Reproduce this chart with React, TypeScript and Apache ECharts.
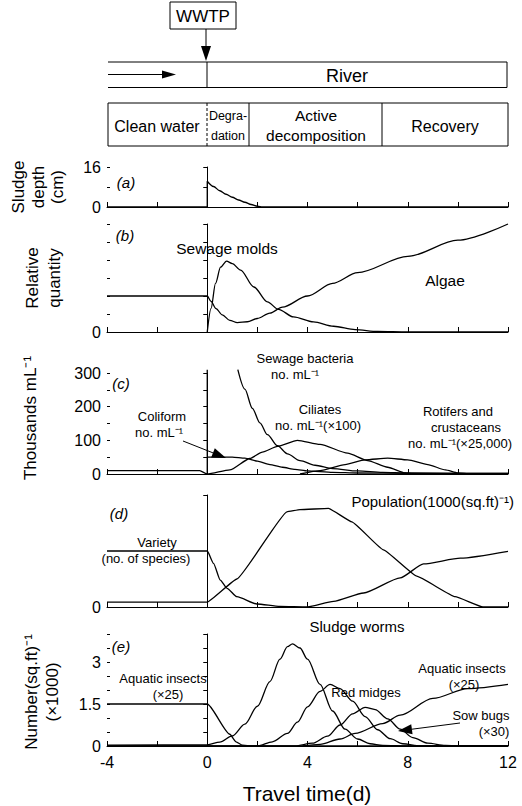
import React, { useEffect, useRef } from "react";
import * as echarts from "echarts";

// ---------- data ----------
const xTickLabels = [-4, 0, 4, 8, 12];
const aTickLabels = [0, 16];
const bTickLabels = [0];
const cTickLabels = [0, 100, 200, 300];
const dTickLabels = [0];
const eTickLabels = [0, 1.5, 3];

// (a) sludge depth, cm
const sludgeStep = [[-4, 0], [0, 0], [0, 10.3]];
const sludgeDecay = [[0, 10.3], [0.25, 8.2], [0.5, 6.5], [0.75, 5.1], [1, 3.9], [1.25, 2.8], [1.5, 1.9], [1.75, 1.0], [2, 0.3], [2.2, 0], [12, 0]];

// (b) relative quantity
const algae = [[-4, 2], [0, 2], [0.15, 1.7], [0.35, 1.3], [0.6, 0.95], [0.9, 0.65], [1.2, 0.52], [1.6, 0.57], [2, 0.75], [2.5, 1.05], [3, 1.38], [4, 2.0], [5, 2.7], [6, 3.3], [8, 4.2], [10, 5.1], [12, 6.0]];
const sewageMolds = [[0, 0], [0.15, 1.3], [0.33, 2.7], [0.53, 3.6], [0.77, 3.94], [1, 3.8], [1.33, 3.44], [1.86, 2.5], [2.4, 1.67], [2.84, 1.26], [3.44, 0.84], [4.24, 0.56], [5.04, 0.32], [5.9, 0.13], [6.8, 0.03], [8, 0], [12, 0]];

// (c) thousands per mL
const bacteriaSpike = [[0, 0], [0, 310]];
const sewageBacteria = [[1.22, 310], [1.5, 252], [1.8, 195], [2.1, 152], [2.4, 117], [2.8, 84], [3.2, 60], [3.7, 40], [4.3, 26], [5, 16], [6, 9], [7, 5], [8, 3], [10, 2], [12, 2]];
const coliform = [[0, 50], [1.0, 50], [1.5, 47], [2, 38], [2.5, 28], [3, 20], [3.5, 14], [4, 9], [5, 5], [6, 3], [8, 2], [12, 2]];
const ciliates = [[-4, 10], [-0.3, 10], [0, 0], [0.9, 12], [1.7, 46], [2.2, 65], [2.8, 82], [3.6, 100], [4.5, 88], [5.6, 62], [6.4, 40], [7.2, 20], [7.9, 3], [8.2, 0], [12, 0]];
const rotifers = [[3.7, 0], [4.5, 10], [5.5, 28], [6.3, 42], [7.2, 47], [8, 42], [8.8, 28], [9.5, 12], [10, 3], [10.5, 0], [12, 0]];

// (d)
const variety = [[-4, 5], [0, 5], [0.25, 3.9], [0.52, 2.4], [0.79, 1.67], [1.18, 0.92], [1.98, 0.27], [2.9, 0.05], [4, 0], [5.04, 0.5], [6.24, 1.25], [7.7, 2.6], [8.63, 3.85], [10.1, 4.36], [12, 4.97]];
const population = [[-4, 0.44], [0, 0.44], [1.18, 2.5], [3.18, 8.5], [3.7, 8.7], [4.84, 8.8], [5.77, 7.6], [7.03, 5.1], [8.36, 2.75], [9.89, 0.92], [11, 0], [12, 0]];

// (e) number per sq.ft (x1000)
const aquaticLeft = [[-4, 1.5], [0, 1.5], [0.9, 0.42], [1.15, 0.15], [1.4, 0.03], [1.8, 0], [12, 0]];
const sludgeWorms = [[-4, 0.03], [0, 0.04], [0.5, 0.14], [1, 0.36], [1.5, 0.78], [2, 1.42], [2.5, 2.3], [2.9, 3.1], [3.2, 3.55], [3.4, 3.65], [3.7, 3.5], [4, 3.1], [4.5, 2.2], [5, 1.25], [5.5, 0.6], [6, 0.25], [6.5, 0.08], [7, 0.02], [8, 0], [12, 0]];
const redMidges = [[-4, 0], [2, 0], [2.6, 0.15], [3.2, 0.45], [3.6, 0.85], [4, 1.4], [4.5, 1.95], [4.9, 2.2], [5.3, 2.05], [5.8, 1.6], [6.3, 1.05], [6.8, 0.58], [7.3, 0.26], [7.8, 0.08], [8.5, 0], [12, 0]];
const sowBugs = [[-4, 0], [3.5, 0], [4.2, 0.1], [4.8, 0.35], [5.3, 0.75], [5.8, 1.15], [6.3, 1.38], [6.7, 1.3], [7.2, 0.97], [7.7, 0.6], [8.2, 0.3], [8.8, 0.1], [9.5, 0.02], [10, 0], [12, 0]];
const aquaticRight = [[3.8, 0], [4.5, 0.06], [5.3, 0.25], [5.9, 0.45], [7, 0.8], [7.7, 1.1], [9, 1.7], [10.4, 2.05], [12, 2.2]];

// ---------- styles ----------
const F = "'Liberation Sans', Arial, Helvetica, sans-serif";
const BLACK = "#000";

function txt(text: string, x: number, y: number, size = 15, extra: any = {}) {
  return {
    type: "text",
    x,
    y,
    rotation: extra.rotation || 0,
    style: {
      text,
      font: `${extra.italic ? "italic " : ""}${size}px ${F}`,
      fill: BLACK,
      textAlign: extra.align || "center",
      align: extra.align || "center",
      textVerticalAlign: "middle",
      verticalAlign: "middle",
    },
  };
}
function seg(x1: number, y1: number, x2: number, y2: number, dash?: number[]) {
  return {
    type: "line",
    shape: { x1, y1, x2, y2 },
    style: { stroke: BLACK, lineWidth: 1, lineDash: dash || null },
  };
}
function arrow(x1: number, y1: number, x2: number, y2: number, len = 13, half = 4.5) {
  const a = Math.atan2(y2 - y1, x2 - x1);
  const bx = x2 - Math.cos(a) * len;
  const by = y2 - Math.sin(a) * len;
  const px = -Math.sin(a) * half;
  const py = Math.cos(a) * half;
  return [
    seg(x1, y1, bx, by),
    {
      type: "polygon",
      shape: { points: [[x2, y2], [bx + px, by + py], [bx - px, by - py]] },
      style: { fill: BLACK },
    },
  ];
}

export default function App() {
  const ref = useRef<HTMLDivElement>(null);
  useEffect(() => {
    document.body.style.margin = "0";
    const chart = echarts.init(ref.current!, undefined, { renderer: "svg" });

    const L = 107;
    const W = 401;
    const grids = [
      { left: L, top: 167, width: W, height: 40 },
      { left: L, top: 224, width: W, height: 108 },
      { left: L, top: 373, width: W, height: 101 },
      { left: L, top: 495, width: W, height: 112 },
      { left: L, top: 634, width: W, height: 112 },
    ];
    const yDefs = [
      { max: 16, interval: 8, labels: aTickLabels, cross: true },
      { max: 6, interval: 1, labels: bTickLabels, cross: true },
      { max: 300, interval: 50, labels: cTickLabels, cross: true },
      { max: 10, interval: 10, labels: dTickLabels, cross: false },
      { max: 4, interval: 0.5, labels: eTickLabels, cross: true },
    ];
    const axisLine = { show: true, lineStyle: { color: BLACK, width: 1 } };
    const xAxis = grids.map((_, i) => ({
      type: "value",
      gridIndex: i,
      min: -4,
      max: 12,
      interval: 2,
      axisLine,
      axisTick: { show: true, inside: true, length: 5, lineStyle: { color: BLACK } },
      splitLine: { show: false },
      axisLabel: {
        show: i === 4,
        color: BLACK,
        fontFamily: F,
        fontSize: 16,
        margin: 8,
        formatter: (v: number) => (xTickLabels.includes(v) ? String(v) : ""),
      },
    }));
    const yMain = yDefs.map((d, i) => ({
      type: "value",
      gridIndex: i,
      position: "left",
      min: 0,
      max: d.max,
      interval: d.interval,
      axisLine,
      axisTick: { show: true, length: 4, lineStyle: { color: BLACK } },
      splitLine: { show: false },
      axisLabel: {
        color: BLACK,
        fontFamily: F,
        fontSize: 16,
        margin: 6,
        formatter: (v: number) => (d.labels.includes(v) ? String(v) : ""),
      },
    }));
    // inner half of the crossing y ticks
    const yInner = yDefs.map((d, i) => ({
      type: "value",
      gridIndex: i,
      position: "left",
      offset: 0,
      min: 0,
      max: d.max,
      interval: d.interval,
      axisLine: { show: false },
      axisTick: { show: d.cross, inside: true, length: 3, lineStyle: { color: BLACK } },
      splitLine: { show: false },
      axisLabel: { show: false },
    }));

    const mk = (data: number[][], gi: number, smooth: number | boolean = false) => ({
      type: "line",
      xAxisIndex: gi,
      yAxisIndex: gi,
      data,
      symbol: "none",
      smooth,
      smoothMonotone: "x",
      clip: false,
      lineStyle: { color: BLACK, width: 1.3 },
      silent: true,
    });

    const series = [
      mk(sludgeStep, 0),
      mk(sludgeDecay, 0, 0.3),
      mk(algae, 1, 0.3),
      mk(sewageMolds, 1, 0.3),
      mk(bacteriaSpike, 2),
      mk(sewageBacteria, 2, 0.3),
      mk(coliform, 2, 0.2),
      mk(ciliates, 2, 0.2),
      mk(rotifers, 2, 0.2),
      mk(variety, 3, 0.2),
      mk(population, 3, 0.1),
      mk(aquaticLeft, 4, 0.2),
      mk(sludgeWorms, 4, 0.3),
      mk(redMidges, 4, 0.3),
      mk(sowBugs, 4, 0.3),
      mk(aquaticRight, 4, 0.3),
    ];

    const S = 13; // stacked annotation font size
    const graphic: any[] = [
      // WWTP box and arrow
      { type: "rect", shape: { x: 170, y: 2, width: 66, height: 27 }, style: { fill: "none", stroke: BLACK, lineWidth: 1 } },
      txt("WWTP", 203, 16, 17),
      ...arrow(206, 29, 206, 61, 15, 5),
      // River box
      seg(108, 62, 507, 62),
      seg(108, 87.5, 507, 87.5),
      seg(507, 62, 507, 87.5),
      seg(207, 62, 207, 87.5),
      ...arrow(108, 74.5, 176, 74.5, 14, 4),
      txt("River", 347, 76, 18),
      // zones
      { type: "rect", shape: { x: 108, y: 103, width: 400, height: 43 }, style: { fill: "none", stroke: BLACK, lineWidth: 1 } },
      seg(207, 103, 207, 146, [3, 2]),
      seg(249, 103, 249, 146),
      seg(382, 103, 382, 146),
      txt("Clean water", 157, 126, 16),
      txt("Degra-", 228, 116, 12.5),
      txt("dation", 228, 136, 12.5),
      txt("Active", 316, 115, 15.5),
      txt("decomposition", 316, 135, 15.5),
      txt("Recovery", 445, 126, 16),
      // axis names
      txt("Sludge", 18, 187, 17, { rotation: Math.PI / 2 }),
      txt("depth", 38, 187, 17, { rotation: Math.PI / 2 }),
      txt("(cm)", 57, 187, 17, { rotation: Math.PI / 2 }),
      txt("Relative", 32, 278, 17, { rotation: Math.PI / 2 }),
      txt("quantity", 54, 278, 17, { rotation: Math.PI / 2 }),
      txt("Thousands mL⁻¹", 30, 418, 17, { rotation: Math.PI / 2 }),
      txt("Number(sq.ft)⁻¹", 31, 692, 17, { rotation: Math.PI / 2 }),
      txt("(×1000)", 52, 692, 17, { rotation: Math.PI / 2 }),
      txt("Travel time(d)", 307, 793, 21),
      // panel letters
      txt("(a)", 126, 182, 15, { italic: true }),
      txt("(b)", 125, 235, 15, { italic: true }),
      txt("(c)", 121, 383, 15, { italic: true }),
      txt("(d)", 119, 513, 15, { italic: true }),
      txt("(e)", 121, 646, 15, { italic: true }),
      // (b) annotations
      txt("Sewage molds", 227, 248, 15.5),
      txt("Algae", 445, 280, 15.5),
      // (c) annotations
      txt("Sewage bacteria", 305, 358, S),
      txt("no. mL⁻¹", 295, 374, S),
      txt("Coliform", 162, 416, S),
      txt("no. mL⁻¹", 159, 432, S),
      ...arrow(183, 441, 226, 458, 14, 5),
      txt("Ciliates", 320, 409, S),
      txt("no. mL⁻¹(×100)", 318, 425, S),
      txt("Rotifers and", 458, 411, S),
      txt("crustaceans", 466, 427, S),
      txt("no. mL⁻¹(×25,000)", 460, 443, S),
      // (d) annotations
      txt("Population(1000(sq.ft)⁻¹)", 514, 501, 15, { align: "right" }),
      txt("Variety", 157, 542, S),
      txt("(no. of species)", 146, 558, S),
      // (e) annotations
      txt("Sludge worms", 357, 626, 15),
      txt("Aquatic insects", 163, 678, S),
      txt("(×25)", 168, 694, S),
      txt("Red midges", 366, 692, S),
      txt("Aquatic insects", 462, 668, S),
      txt("(×25)", 464, 684, S),
      txt("Sow bugs", 481, 715, S),
      txt("(×30)", 494, 731, S),
      ...arrow(460, 723, 398, 731, 14, 5),
    ];

    chart.setOption({
      animation: false,
      backgroundColor: "#fff",
      textStyle: { fontFamily: F },
      grid: grids,
      xAxis,
      yAxis: [...yMain, ...yInner],
      series,
      graphic: { elements: graphic },
    });
    return () => chart.dispose();
  }, []);
  return <div ref={ref} style={{ width: 522, height: 806 }} />;
}
